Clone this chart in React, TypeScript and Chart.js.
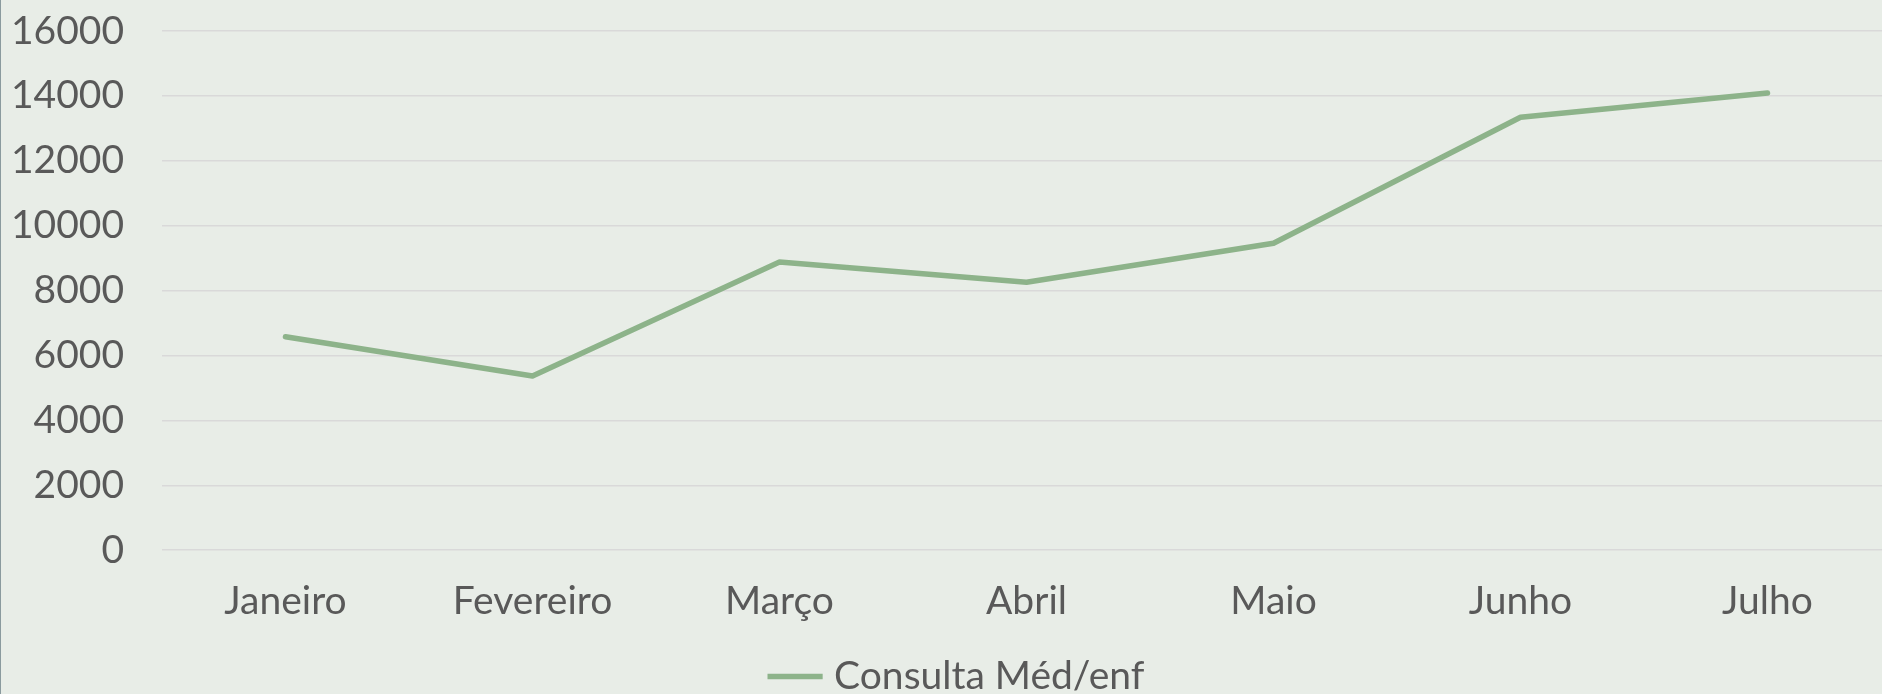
import React, { useEffect, useRef } from "react";
import { Chart, registerables } from "chart.js";

Chart.register(...registerables);

const months = ["Janeiro", "Fevereiro", "Março", "Abril", "Maio", "Junho", "Julho"];
const consultas = [6580, 5370, 8880, 8260, 9460, 13340, 14090];
const seriesLabel = "Consulta Méd/enf";
const yMin = 0;
const yMax = 16000;
const yStep = 2000;

const BG = "#E8EDE7";
const TEXT = "#595959";
const LINE = "#8DB38A";
const GRID = "#D9D9D9";
const FONT = "Lato, 'Open Sans', sans-serif";

const legendShift = {
  id: "legendShift",
  afterLayout(chart: any) {
    if (chart.legend) {
      chart.legend.left += 14;
      chart.legend.right += 14;
    }
  },
};

export default function App() {
  const ref = useRef<HTMLCanvasElement | null>(null);

  useEffect(() => {
    if (!ref.current) return;
    const chart = new Chart(ref.current, {
      type: "line",
      plugins: [legendShift],
      data: {
        labels: months,
        datasets: [
          {
            label: seriesLabel,
            data: consultas,
            borderColor: LINE,
            backgroundColor: LINE,
            borderWidth: 5.5,
            borderCapStyle: "round",
            borderJoinStyle: "round",
            pointRadius: 0,
            pointHoverRadius: 0,
            pointStyle: "line",
            tension: 0,
            fill: false,
          },
        ],
      },
      options: {
        responsive: false,
        animation: false,
        layout: { padding: { top: 31, right: 24, bottom: -12, left: 0 } },
        plugins: {
          tooltip: { enabled: false },
          legend: {
            display: true,
            position: "bottom",
            labels: {
              usePointStyle: true,
              color: TEXT,
              font: { family: FONT, size: 39 },
              boxHeight: 40,
              padding: 4,
            },
          },
        },
        scales: {
          x: {
            type: "category",
            offset: true,
            grid: { display: false, drawTicks: false },
            border: { display: false },
            ticks: {
              color: TEXT,
              font: { family: FONT, size: 39 },
              padding: 28,
              maxRotation: 0,
              autoSkip: false,
            },
          },
          y: {
            min: yMin,
            max: yMax,
            grid: { color: GRID, lineWidth: 1.6, drawTicks: false },
            border: { display: false },
            ticks: {
              stepSize: yStep,
              color: TEXT,
              font: { family: FONT, size: 39 },
              padding: 38,
              callback: (v: any) => String(v),
            },
            afterFit: (scale: any) => {
              scale.width = 161;
              scale.paddingTop = 0;
              scale.paddingBottom = 0;
            },
          },
        },
      },
    });
    return () => chart.destroy();
  }, []);

  return (
    <div
      style={{
        position: "absolute",
        left: 0,
        top: 0,
        width: 1882,
        height: 694,
        overflow: "hidden",
        background: BG,
        boxSizing: "border-box",
        borderLeft: "1px solid #8A9A9E",
      }}
    >
      <canvas ref={ref} width={1914} height={694} style={{ display: "block", width: 1914, height: 694 }} />
    </div>
  );
}
